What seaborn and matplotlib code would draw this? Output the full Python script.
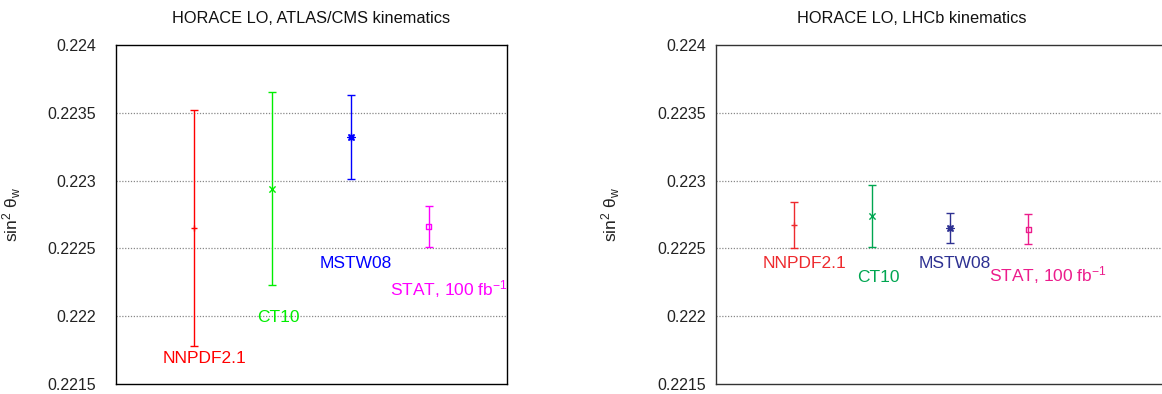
import matplotlib
matplotlib.use("Agg")
import matplotlib.pyplot as plt
import seaborn as sns
import pandas as pd

# PDF sets and fitted sin^2(theta_W) with uncertainties
pdf_sets = ["NNPDF2.1", "CT10", "MSTW08", "STAT"]
label_text = ["NNPDF2.1", "CT10", "MSTW08", r"STAT, 100 fb$^{-1}$"]
x_pos = [1, 2, 3, 4]

atlas_central = [0.22265, 0.22294, 0.22332, 0.22266]
atlas_err = [0.00087, 0.00071, 0.00031, 0.00015]

lhcb_central = [0.22267, 0.22274, 0.22265, 0.22264]
lhcb_err = [0.00017, 0.00023, 0.00011, 0.00011]

# label anchors (x of left edge, y of text middle)
atlas_label_x = [0.6, 1.8, 2.6, 3.5]
atlas_label_y = [0.2217, 0.2220, 0.2224, 0.2222]
lhcb_label_x = [0.6, 1.8, 2.6, 3.5]
lhcb_label_y = [0.2224, 0.2223, 0.2224, 0.2223]

y_ticks = [0.2215, 0.222, 0.2225, 0.223, 0.2235, 0.224]
y_tick_labels = ["0.2215", "0.222", "0.2225", "0.223", "0.2235", "0.224"]

# plus, cross, asterisk (8 arms), open square
markers = ["+", "x", (8, 2, 0), "s"]
marker_sizes = [24, 20, 26, 14]
atlas_colors = ["#ff0000", "#00ee00", "#0000ff", "#ff00ff"]
lhcb_colors = ["#ee2a2e", "#00a651", "#2e3192", "#ec1c8c"]

sns.set_theme(style="white")
base_font = "Liberation Sans"
plt.rcParams["font.family"] = [base_font, "DejaVu Sans"]
plt.rcParams["mathtext.fontset"] = "custom"
plt.rcParams["mathtext.rm"] = base_font
plt.rcParams["mathtext.it"] = base_font

W, H = 1162, 394
fig = plt.figure(figsize=(W / 100, H / 100), dpi=100)


def px_axes(left, right, top, bottom):
    return fig.add_axes([left / W, 1 - bottom / H, (right - left) / W, (bottom - top) / H])


ax_l = px_axes(116, 507, 45, 384)
ax_r = px_axes(716.3, 1175, 45, 384)


def draw_panel(ax, central, err, colors, lab_x, lab_y, title, xmax, tick_pad, spine_color):
    df = pd.DataFrame({"pdf": pdf_sets, "x": x_pos, "y": central, "err": err})
    for i, row in df.iterrows():
        ax.errorbar(row["x"], row["y"], yerr=row["err"], fmt="none",
                    ecolor=colors[i], elinewidth=1.0, capsize=2.6, capthick=1.0, zorder=3)
        filled = markers[i] != "s"
        sns.scatterplot(data=df.iloc[[i]], x="x", y="y", marker=markers[i],
                        s=marker_sizes[i], ax=ax, legend=False, zorder=4,
                        color=colors[i] if filled else "none",
                        edgecolor=colors[i], linewidth=1.0)
    ax.set_xlim(0, xmax)
    ax.set_ylim(0.2215, 0.224)
    ax.set_xticks([])
    ax.set_yticks(y_ticks)
    ax.set_yticklabels(y_tick_labels, fontsize=11.5, color="#222222")
    ax.tick_params(axis="y", length=0, pad=tick_pad)
    ax.set_xlabel("")
    ax.set_ylabel("sin$^2$ θ$_{\\rm w}$", fontsize=12.5, color="#222222")
    for g in [0.222, 0.2225, 0.223, 0.2235]:
        ax.axhline(g, color="#888888", lw=0.9, ls=(0, (1, 1.3)), zorder=1)
    for sp in ax.spines.values():
        sp.set_color(spine_color)
        sp.set_linewidth(1.0)
    for txt, lx, ly, c in zip(label_text, lab_x, lab_y, colors):
        ax.annotate(txt, (lx, ly), xytext=(0, -4.4), textcoords="offset points",
                    ha="left", va="baseline", color=c, fontsize=12.5)
    ax.text(2.5, 1 + 27 / 339, title, transform=ax.get_xaxis_transform(), ha="center",
            va="center", fontsize=11.8, color="#111111")


draw_panel(ax_l, atlas_central, atlas_err, atlas_colors, atlas_label_x, atlas_label_y,
           "HORACE LO, ATLAS/CMS kinematics", 5.0, 14.5, "#000000")
draw_panel(ax_r, lhcb_central, lhcb_err, lhcb_colors, lhcb_label_x, lhcb_label_y,
           "HORACE LO, LHCb kinematics", (1175 - 716.3) / 78.0, 7.5, "#333333")

ax_l.yaxis.set_label_coords(-0.238, 0.5)
ax_r.yaxis.set_label_coords(-(716.3 - 622.5) / (1175 - 716.3), 0.5)

fig.savefig("out.png", dpi=100)
